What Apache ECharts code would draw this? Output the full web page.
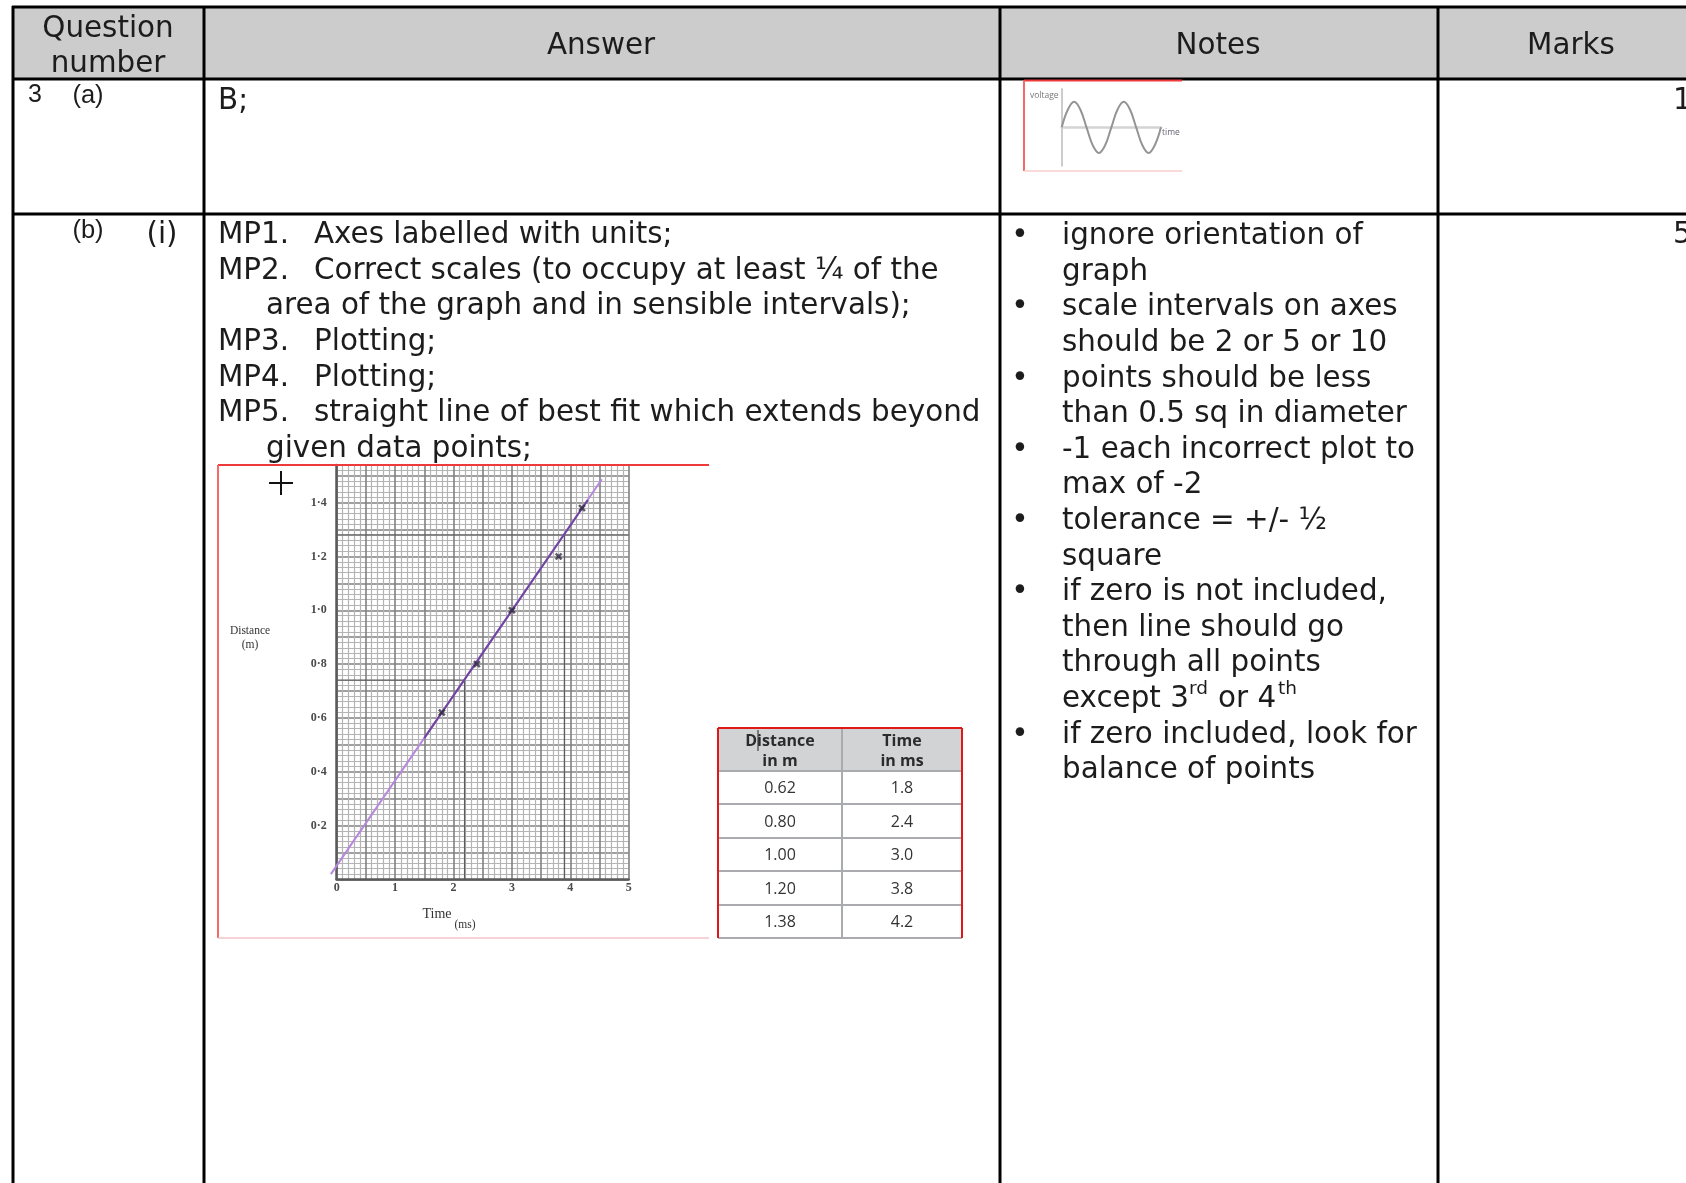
<!DOCTYPE html>
<html>
<head>
<meta charset="utf-8">
<title>Mark scheme 3(b)(i)</title>
<script src="https://cdn.jsdelivr.net/npm/echarts@6/dist/echarts.min.js"></script>
<style>
	html,body{margin:0;padding:0;background:#fff;}
	#chart{width:1686px;height:1183px;}
</style>
</head>
<body>
<div id="chart"></div>
<script>
	// table text
	const headers = ['Answer', 'Notes', 'Marks'];
	const answerLines = ['Axes labelled with units;', 'Correct scales (to occupy at least ¼ of the', 'area of the graph and in sensible intervals);', 'Plotting;', 'Plotting;', 'straight line of best fit which extends beyond', 'given data points;'];
	const answerTags = ['MP1.', 'MP2.', '', 'MP3.', 'MP4.', 'MP5.', ''];
	const noteLines = ['ignore orientation of', 'graph', 'scale intervals on axes', 'should be 2 or 5 or 10', 'points should be less', 'than 0.5 sq in diameter', '-1 each incorrect plot to', 'max of -2', 'tolerance = +/- ½', 'square', 'if zero is not included,', 'then line should go', 'through all points', '', 'if zero included, look for', 'balance of points'];
	const noteBullets = [0, 2, 4, 6, 8, 10, 14];

	// distance-time data
	const distances = [0.62, 0.80, 1.00, 1.20, 1.38];
	const times = [1.8, 2.4, 3.0, 3.8, 4.2];
	const fitTimes = [-0.10, 4.54];
	const fitDistances = [0.019, 1.487];
	const darkFitTimes = [1.5, 4.3];
	const darkFitDistances = [0.525, 1.41];
	const ruledTimes = [[2.19, 2.19], [3.9, 3.9], [0, 2.19], [0, 5]];
	const ruledDistances = [[0, 0.74], [0, 1.28], [0.74, 0.74], [1.28, 1.28]];
	const yTickLabels = {'0.2':'0·2', '0.4':'0·4', '0.6':'0·6', '0.8':'0·8', '1':'1·0', '1.2':'1·2', '1.4':'1·4'};

	// small voltage-time sketch
	const sketchTime = [0, 0.125, 0.25, 0.375, 0.5, 0.625, 0.75, 0.875, 1, 1.125, 1.25, 1.375, 1.5, 1.625, 1.75, 1.875, 2];
	const sketchVoltage = [0, 0.7, 1, 0.7, 0, -0.7, -1, -0.7, 0, 0.7, 1, 0.7, 0, -0.7, -1, -0.7, 0];

	const verdana = '"DejaVu Sans"';
	const bodySize = 29.4;
	let elements = [];

	function text(str, x, y, size, opt){
		opt = opt || {};
		elements.push({
			type:'text', z:20, silent:true, x:x, y:y,
			style:{
				text:str,
				font:(opt.weight || 'normal') + ' ' + size + 'px ' + (opt.family || verdana),
				fill:opt.color || '#1c1c1c',
				align:opt.align || 'left',
				verticalAlign:'middle'
			}
		});
	}
	function line(x1, y1, x2, y2, color, width){
		elements.push({
			type:'line', z:15, silent:true,
			shape:{x1:x1, y1:y1, x2:x2, y2:y2},
			style:{stroke:color, lineWidth:width}
		});
	}
	function box(x, y, w, h, color){
		elements.push({
			type:'rect', z:0, silent:true,
			shape:{x:x, y:y, width:w, height:h},
			style:{fill:color}
		});
	}

	// outer table
	box(13, 7, 1673, 72, '#cccccc');
	[7, 79, 214].forEach(function(y){ line(12, y, 1686, y, '#000', 3); });
	[13, 204, 1000, 1438].forEach(function(x){ line(x, 6, x, 1183, '#000', 3); });

	text('Question', 108, 29, bodySize, {align:'center'});
	text('number', 108, 64, bodySize, {align:'center'});
	text(headers[0], 601, 46, bodySize, {align:'center'});
	text(headers[1], 1218, 46, bodySize, {align:'center'});
	text(headers[2], 1571, 46, bodySize, {align:'center'});

	text('3', 35, 95, 25, {family:'"Liberation Sans"', align:'center'});
	text('(a)', 88, 96, 25.5, {family:'"Liberation Sans"', align:'center'});
	text('(b)', 88, 231, 25.5, {family:'"Liberation Sans"', align:'center'});
	text('(i)', 162, 235, bodySize, {align:'center'});
	text('B;', 218, 101, bodySize);
	text('1', 1673, 101, bodySize);
	text('5', 1673, 235, bodySize);

	answerLines.forEach(function(str, i){
		let y = 235.5 + i * 35.6;
		if(answerTags[i]){
			text(answerTags[i], 218, y, bodySize);
			text(str, 314, y, bodySize);
		}else{
			text(str, 266, y, bodySize);
		}
	});
	noteLines.forEach(function(str, i){
		text(str, 1062, 236.5 + i * 35.6, bodySize);
	});
	noteBullets.forEach(function(i){
		text('•', 1020, 236.5 + i * 35.6, bodySize, {align:'center'});
	});
	// line with the superscripts
	text('except 3', 1062, 699, bodySize);
	text('rd', 1189, 689, 18.5);
	text('or 4', 1218, 699, bodySize);
	text('th', 1278, 689, 18.5);

	// red picture frames
	line(218, 465, 709, 465, '#f03a3a', 2);
	line(218, 465, 218, 938, '#f46a6a', 2);
	line(218, 938, 709, 938, '#f3c4c8', 1.5);
	line(1024, 80.5, 1182, 80.5, '#f03a3a', 2);
	line(1024, 80.5, 1024, 171, '#f46a6a', 2);
	line(1024, 171, 1182, 171, '#f8cccc', 1.5);

	// cursor cross and hand written labels of the graph
	line(269, 483, 293, 483, '#111', 2);
	line(281, 471, 281, 495, '#111', 2);
	text('Distance', 250, 631, 11.5, {align:'center', family:'"Liberation Serif"', color:'#333'});
	text('(m)', 250, 645, 11.5, {align:'center', family:'"Liberation Serif"', color:'#333'});
	text('Time', 437, 914, 14, {align:'center', family:'"Liberation Serif"', color:'#333'});
	text('(ms)', 465, 925, 11.5, {align:'center', family:'"Liberation Serif"', color:'#333'});
	text('voltage', 1030, 96, 8.5, {family:'"Open Sans"', color:'#777'});
	text('time', 1162, 133, 8.5, {family:'"Open Sans"', color:'#667'});

	// small data table
	const tableY = [728, 771, 804, 838, 871, 905, 938];
	box(718, 728, 244, 43, '#d1d3d4');
	tableY.forEach(function(y){ line(718, y, 962, y, '#a9abae', 2); });
	line(842, 728, 842, 938, '#a9abae', 2);
	const tableFont = '"Open Sans"';
	text('Distance', 780, 741, 16, {align:'center', weight:'bold', family:tableFont, color:'#2b2b2b'});
	text('in m', 780, 761, 16, {align:'center', weight:'bold', family:tableFont, color:'#2b2b2b'});
	text('Time', 902, 741, 16, {align:'center', weight:'bold', family:tableFont, color:'#2b2b2b'});
	text('in ms', 902, 761, 16, {align:'center', weight:'bold', family:tableFont, color:'#2b2b2b'});
	distances.forEach(function(d, i){
		let y = (tableY[i + 1] + tableY[i + 2]) / 2 + 1;
		text(d.toFixed(2), 780, y, 16, {align:'center', family:tableFont, color:'#333'});
		text(times[i].toFixed(1), 902, y, 16, {align:'center', family:tableFont, color:'#333'});
	});
	line(718, 728, 962, 728, '#e01818', 2);
	line(718, 728, 718, 938, '#e01818', 2);
	line(962, 728, 962, 938, '#e01818', 2);
	line(758, 730, 758, 751, '#222', 1);

	const pairs = function(xs, ys){ return xs.map(function(x, i){ return [x, ys[i]]; }); };

	let series = [];
	ruledTimes.forEach(function(xs, i){
		series.push({
			type:'line', xAxisIndex:0, yAxisIndex:0, symbol:'none', silent:true,
			data:pairs(xs, ruledDistances[i]),
			lineStyle:{color:'#5c5c5c', width:1.3}
		});
	});
	// the line starts left of the zero, so it goes on a hidden grid that reaches further left
	series.push({
		type:'line', name:'fit', xAxisIndex:2, yAxisIndex:2, symbol:'none', silent:true, z:5,
		data:pairs(fitTimes, fitDistances),
		lineStyle:{color:'#b687dc', width:2}
	});
	series.push({
		type:'line', name:'fit dark', xAxisIndex:0, yAxisIndex:0, symbol:'none', silent:true, z:6,
		data:pairs(darkFitTimes, darkFitDistances),
		lineStyle:{color:'#6f459f', width:2}
	});
	series.push({
		type:'scatter', name:'points', xAxisIndex:0, yAxisIndex:0, silent:true, z:7,
		data:pairs(times, distances),
		symbol:'path://M0 2L2 0L10 8L8 10ZM8 0L10 2L2 10L0 8Z',
		symbolSize:7,
		itemStyle:{color:'#332a44', borderColor:'#332a44', borderWidth:0.5}
	});
	series.push({
		type:'line', name:'voltage', xAxisIndex:1, yAxisIndex:1, symbol:'none', smooth:0.4, silent:true,
		data:pairs(sketchTime, sketchVoltage),
		lineStyle:{color:'#949494', width:2}
	});

	let myChart = echarts.init(document.getElementById('chart'));
	myChart.setOption({
		animation:false,
		backgroundColor:'#fff',
		grid:[
			{left:336.7, top:465, width:292, height:414.3},
			{left:1061.7, top:89, width:99.3, height:76.7},
			{left:325.02, top:465, width:303.68, height:414.3}
		],
		xAxis:[
			{
				type:'value', gridIndex:0, min:0, max:5, interval:0.5,
				axisLine:{onZero:false, lineStyle:{color:'#5a5a5a', width:2.5}},
				axisTick:{show:false},
				axisLabel:{
					margin:3, fontSize:12, fontWeight:'bold', color:'#4a4a4a', fontFamily:'"Liberation Serif"',
					formatter:function(v){ return Number.isInteger(v) ? String(v) : ''; }
				},
				splitLine:{show:true, lineStyle:{color:'#808080', width:1.6}},
				minorTick:{show:false, splitNumber:5},
				minorSplitLine:{show:true, lineStyle:{color:'#b4b4b4', width:1.2}}
			},
			{
				type:'value', gridIndex:1, min:0, max:2, interval:2,
				axisLine:{onZero:true, lineStyle:{color:'#d4d4d4', width:2.5}},
				axisTick:{show:false}, axisLabel:{show:false}, splitLine:{show:false}
			},
			{type:'value', gridIndex:2, min:-0.2, max:5, show:false}
		],
		yAxis:[
			{
				type:'value', gridIndex:0, min:0, max:1.54, interval:0.1,
				axisLine:{show:true, onZero:false, lineStyle:{color:'#5a5a5a', width:2.5}},
				axisTick:{show:false},
				axisLabel:{
					margin:10, fontSize:12, fontWeight:'bold', color:'#4a4a4a', fontFamily:'"Liberation Serif"',
					formatter:function(v){ return yTickLabels[String(Math.round(v * 10) / 10)] || ''; }
				},
				splitLine:{show:true, lineStyle:{color:'#808080', width:1.6}},
				minorTick:{show:false, splitNumber:5},
				minorSplitLine:{show:true, lineStyle:{color:'#b4b4b4', width:1.2}}
			},
			{
				type:'value', gridIndex:1, min:-1.5, max:1.5, interval:1.5,
				axisLine:{show:true, onZero:false, lineStyle:{color:'#cccccc', width:2}},
				axisTick:{show:false}, axisLabel:{show:false}, splitLine:{show:false}
			},
			{type:'value', gridIndex:2, min:0, max:1.54, show:false}
		],
		series:series,
		graphic:{elements:elements}
	});
</script>
</body>
</html>
